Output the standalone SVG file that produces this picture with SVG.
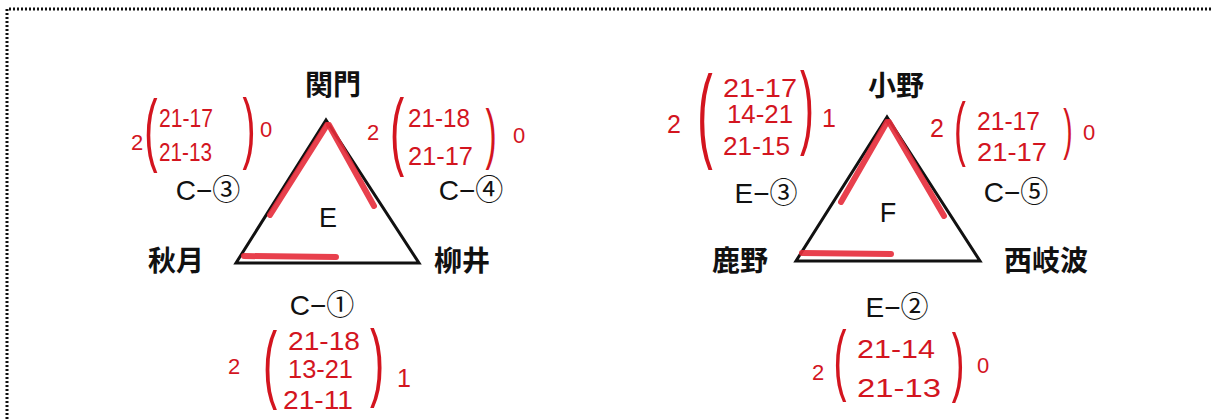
<svg xmlns="http://www.w3.org/2000/svg" width="1211" height="419" viewBox="0 0 1211 419">
<style>
.team{font-family:"Noto Sans CJK JP","Noto Sans CJK SC",sans-serif;font-size:28px;font-weight:bold;fill:#111;text-anchor:middle}
.match{font-family:"Liberation Sans","Noto Sans CJK JP",sans-serif;font-size:28px;fill:#111;text-anchor:middle}
.grp{font-family:"Liberation Sans",sans-serif;font-size:27px;fill:#111;text-anchor:middle}
.sc{font-family:"Liberation Sans",sans-serif;font-size:25px;fill:#d3151f}
.sm{font-family:"Liberation Sans",sans-serif;font-size:22px;fill:#d3151f}
.par{font-family:"Liberation Sans",sans-serif;fill:#d3151f;text-anchor:middle}
.tri{fill:none;stroke:#111;stroke-width:3;stroke-linejoin:miter}
.hl{stroke:#e62c3a;stroke-width:6;stroke-linecap:round;opacity:0.9}
.border{fill:none;stroke:#111;stroke-width:3;stroke-dasharray:2 2}
</style>
<rect width="1211" height="419" fill="#fff"/>
<path class="border" d="M7,419 V9 H1211"/>

<g id="connectors">
  <path class="tri" d="M326,120 L236,263 L419,263 Z"/>
  <path class="tri" d="M887,117 L796,261 L980,261 Z"/>
  <line class="hl" x1="327" y1="125" x2="270" y2="215"/>
  <line class="hl" x1="329" y1="125" x2="374" y2="206"/>
  <line class="hl" x1="244" y1="256" x2="336" y2="257" opacity="0.8"/>
  <line class="hl" x1="887" y1="122" x2="841" y2="202"/>
  <line class="hl" x1="889" y1="122" x2="944" y2="216"/>
  <line class="hl" x1="802" y1="253" x2="891" y2="254" opacity="0.8"/>
</g>

<g id="group-E"><text class="grp" x="328" y="227">E</text></g>
<g id="group-F"><text class="grp" x="888" y="222">F</text></g>

<g id="team-sekimon"><text class="team" x="333" y="95">関門</text></g>
<g id="team-akizuki"><text class="team" x="176" y="271">秋月</text></g>
<g id="team-yanai"><text class="team" x="462" y="271">柳井</text></g>
<g id="team-ono"><text class="team" x="896" y="96">小野</text></g>
<g id="team-kano"><text class="team" x="740" y="271">鹿野</text></g>
<g id="team-nishikiwa"><text class="team" x="1046" y="271">西岐波</text></g>

<g id="match-C3">
  <text class="match" x="208" y="200">C−③</text>
  <text class="sm" x="131" y="150">2</text>
  <text class="par" font-size="80" transform="translate(151,156) scale(0.5,1)">(</text>
  <text class="sc" x="159" y="127" font-size="23" textLength="54" lengthAdjust="spacingAndGlyphs">21-17</text>
  <text class="sc" x="159" y="161" font-size="23" textLength="53" lengthAdjust="spacingAndGlyphs">21-13</text>
  <text class="par" font-size="78" transform="translate(249,154) scale(0.5,1)">)</text>
  <text class="sm" x="260" y="137">0</text>
</g>

<g id="match-C4">
  <text class="match" x="471" y="200">C−④</text>
  <text class="sm" x="367" y="140">2</text>
  <text class="par" font-size="85" transform="translate(397,159) scale(0.5,1)">(</text>
  <text class="sc" x="408" y="127" textLength="62" lengthAdjust="spacingAndGlyphs">21-18</text>
  <text class="sc" x="408" y="165" textLength="65" lengthAdjust="spacingAndGlyphs">21-17</text>
  <text class="par" font-size="67" transform="translate(491,156) scale(0.5,1)">)</text>
  <text class="sm" x="513" y="143">0</text>
</g>

<g id="match-C1">
  <text class="match" x="322" y="315">C−①</text>
  <text class="sm" x="228" y="374">2</text>
  <text class="par" font-size="85" transform="translate(270,392) scale(0.5,1)">(</text>
  <text class="sc" x="288" y="350" textLength="72" lengthAdjust="spacingAndGlyphs">21-18</text>
  <text class="sc" x="288" y="378" textLength="65" lengthAdjust="spacingAndGlyphs">13-21</text>
  <text class="sc" x="283" y="409" textLength="70" lengthAdjust="spacingAndGlyphs">21-11</text>
  <text class="par" font-size="85" transform="translate(377,390) scale(0.5,1)">)</text>
  <text class="sc" x="397" y="387">1</text>
</g>

<g id="match-E3">
  <text class="match" x="766" y="203">E−③</text>
  <text class="sc" x="667" y="133" font-size="30">2</text>
  <text class="par" font-size="103" transform="translate(705,148) scale(0.45,1)">(</text>
  <text class="sc" x="723" y="97" font-size="22" textLength="74" lengthAdjust="spacingAndGlyphs">21-17</text>
  <text class="sc" x="727" y="123" font-size="22" textLength="66" lengthAdjust="spacingAndGlyphs">14-21</text>
  <text class="sc" x="723" y="155" font-size="23" textLength="67" lengthAdjust="spacingAndGlyphs">21-15</text>
  <text class="par" font-size="93" transform="translate(807,137) scale(0.45,1)">)</text>
  <text class="sc" x="822" y="127">1</text>
</g>

<g id="match-C5">
  <text class="match" x="1016" y="202">C−⑤</text>
  <text class="sc" x="930" y="137">2</text>
  <text class="par" font-size="71" transform="translate(960,152) scale(0.5,1)">(</text>
  <text class="sc" x="977" y="130" textLength="63" lengthAdjust="spacingAndGlyphs">21-17</text>
  <text class="sc" x="977" y="161" textLength="70" lengthAdjust="spacingAndGlyphs">21-17</text>
  <text class="par" font-size="56" transform="translate(1068,148) scale(0.5,1)">)</text>
  <text class="sm" x="1083" y="140">0</text>
</g>

<g id="match-E2">
  <text class="match" x="897" y="317">E−②</text>
  <text class="sm" x="812" y="380">2</text>
  <text class="par" font-size="78" transform="translate(840,386) scale(0.5,1)">(</text>
  <text class="sc" x="857" y="358" textLength="78" lengthAdjust="spacingAndGlyphs">21-14</text>
  <text class="sc" x="857" y="397" textLength="84" lengthAdjust="spacingAndGlyphs">21-13</text>
  <text class="par" font-size="76" transform="translate(958,387) scale(0.5,1)">)</text>
  <text class="sm" x="977" y="373">0</text>
</g>
</svg>
